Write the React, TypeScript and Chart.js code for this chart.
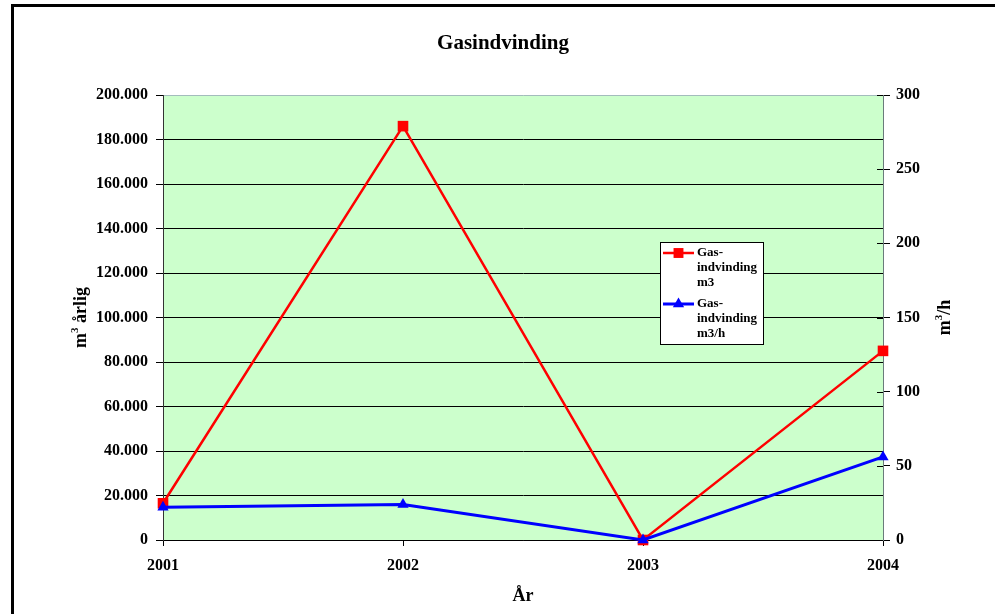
import { useEffect, useRef } from "react";
import { Chart, registerables } from "chart.js";

Chart.register(...registerables);

// Years on the category axis
const years = ["2001", "2002", "2003", "2004"];
// Annual gas recovery, m3 per year (left axis)
const gasPerYear = [16500, 186000, 0, 85000];
// Gas recovery rate, m3 per hour (right axis)
const gasPerHour = [22, 24, 0, 56];

// Legend entries, one line per row
const gasPerYearLegend = ["Gas-", "indvinding", "m3"];
const gasPerHourLegend = ["Gas-", "indvinding", "m3/h"];

const chartTitle = "Gasindvinding";
const xAxisTitle = "År";
// Axis titles split as [base, superscript, rest]
const leftAxisTitle: [string, string, string] = ["m", "3", " årlig"];
const rightAxisTitle: [string, string, string] = ["m", "3", "/h"];

const FONT = "'Liberation Serif', 'Times New Roman', serif";

function formatThousands(v: number): string {
  return String(Math.round(v)).replace(/\B(?=(\d{3})+(?!\d))/g, ".");
}

// Draws a vertical (bottom-to-top) title with a raised superscript
function drawRotatedSupTitle(
  ctx: CanvasRenderingContext2D,
  cx: number,
  cy: number,
  parts: [string, string, string],
  size: number
) {
  const [base, sup, rest] = parts;
  const supSize = Math.round(size * 0.62);
  ctx.save();
  ctx.translate(cx, cy);
  ctx.rotate(-Math.PI / 2);
  ctx.fillStyle = "#000";
  ctx.textBaseline = "alphabetic";
  ctx.textAlign = "left";
  ctx.font = `bold ${size}px ${FONT}`;
  const w1 = ctx.measureText(base).width;
  const w3 = ctx.measureText(rest).width;
  ctx.font = `bold ${supSize}px ${FONT}`;
  const w2 = ctx.measureText(sup).width;
  const total = w1 + w2 + w3;
  let x = -total / 2;
  const baseline = size * 0.33;
  ctx.font = `bold ${size}px ${FONT}`;
  ctx.fillText(base, x, baseline);
  x += w1;
  ctx.font = `bold ${supSize}px ${FONT}`;
  ctx.fillText(sup, x, baseline - size * 0.45);
  x += w2;
  ctx.font = `bold ${size}px ${FONT}`;
  ctx.fillText(rest, x, baseline);
  ctx.restore();
}

function drawMarker(
  ctx: CanvasRenderingContext2D,
  style: string,
  x: number,
  y: number,
  r: number,
  color: string
) {
  ctx.fillStyle = color;
  ctx.beginPath();
  if (style === "rect") {
    const s = Math.SQRT1_2 * r;
    ctx.rect(x - s, y - s, 2 * s, 2 * s);
  } else {
    ctx.moveTo(x, y - r);
    ctx.lineTo(x + r * Math.sin((2 * Math.PI) / 3), y - r * Math.cos((2 * Math.PI) / 3));
    ctx.lineTo(x + r * Math.sin((4 * Math.PI) / 3), y - r * Math.cos((4 * Math.PI) / 3));
    ctx.closePath();
  }
  ctx.fill();
}

const decorPlugin = {
  id: "decor",
  beforeDraw(chart: any) {
    const { ctx, chartArea: a, width, height } = chart;
    ctx.save();
    ctx.fillStyle = "#ffffff";
    ctx.fillRect(0, 0, width, height);
    // plot area fill
    ctx.fillStyle = "#CCFFCC";
    ctx.fillRect(a.left, a.top, a.right - a.left, a.bottom - a.top);
    // outer frame (left and top edges)
    ctx.fillStyle = "#000";
    ctx.fillRect(11, 4, 3, height - 4);
    ctx.fillRect(11, 4, width - 11, 3);
    ctx.restore();
  },
  afterDraw(chart: any) {
    const { ctx, chartArea: a } = chart;
    ctx.save();

    // chart title
    ctx.fillStyle = "#000";
    ctx.font = `bold 21px ${FONT}`;
    ctx.textAlign = "center";
    ctx.textBaseline = "alphabetic";
    ctx.fillText(chartTitle, 503, 49);

    // x axis title
    ctx.font = `bold 18px ${FONT}`;
    ctx.fillText(xAxisTitle, (a.left + a.right) / 2, 601);

    // y axis titles
    const midY = (a.top + a.bottom) / 2;
    drawRotatedSupTitle(ctx, 80, midY, leftAxisTitle, 18);
    drawRotatedSupTitle(ctx, 944, midY, rightAxisTitle, 18);

    // inner half of the right axis tick marks
    const ry = chart.scales.y1;
    ctx.strokeStyle = "#000";
    ctx.lineWidth = 1;
    for (const t of ry.ticks) {
      const y = Math.round(ry.getPixelForValue(t.value)) + 0.5;
      ctx.beginPath();
      ctx.moveTo(a.right - 6, y);
      ctx.lineTo(a.right, y);
      ctx.stroke();
    }

    // legend box
    const bx = 660, by = 242, bw = 104, bh = 103;
    ctx.fillStyle = "#fff";
    ctx.fillRect(bx, by, bw, bh);
    ctx.strokeStyle = "#000";
    ctx.lineWidth = 1;
    ctx.strokeRect(bx + 0.5, by + 0.5, bw - 1, bh - 1);

    const legendRows = [gasPerYearLegend, gasPerHourLegend];
    chart.data.datasets.forEach((ds: any, i: number) => {
      const rowY = by + 11 + i * 51;
      ctx.strokeStyle = ds.borderColor;
      ctx.lineWidth = ds.borderWidth;
      ctx.beginPath();
      ctx.moveTo(bx + 3, rowY);
      ctx.lineTo(bx + 34, rowY);
      ctx.stroke();
      drawMarker(ctx, ds.pointStyle, bx + 18.5, rowY, ds.pointStyle === "rect" ? 7 : 6.5, ds.borderColor);
      ctx.fillStyle = "#000";
      ctx.font = `bold 13px ${FONT}`;
      ctx.textAlign = "left";
      ctx.textBaseline = "middle";
      legendRows[i].forEach((line, j) => {
        ctx.fillText(line, bx + 37, rowY + j * 15);
      });
    });

    ctx.restore();
  },
};

export default function App() {
  const canvasRef = useRef<HTMLCanvasElement | null>(null);

  useEffect(() => {
    document.body.style.margin = "0";
    const canvas = canvasRef.current;
    if (!canvas) return;

    const tickFont = { family: FONT, size: 16, weight: "bold" as const };

    const chart = new Chart(canvas, {
      type: "line",
      data: {
        labels: years,
        datasets: [
          {
            label: gasPerYearLegend.join(" "),
            data: gasPerYear,
            yAxisID: "y",
            borderColor: "#FF0000",
            backgroundColor: "#FF0000",
            borderWidth: 2.5,
            pointStyle: "rect",
            pointRadius: 7.5,
            pointBorderWidth: 0,
            pointBackgroundColor: "#FF0000",
            tension: 0,
            clip: false,
            order: 1,
          },
          {
            label: gasPerHourLegend.join(" "),
            data: gasPerHour,
            yAxisID: "y1",
            borderColor: "#0000FF",
            backgroundColor: "#0000FF",
            borderWidth: 3,
            pointStyle: "triangle",
            pointRadius: 6.5,
            pointBorderWidth: 0,
            pointBackgroundColor: "#0000FF",
            tension: 0,
            clip: false,
            order: 0,
          },
        ],
      },
      options: {
        responsive: false,
        animation: false,
        devicePixelRatio: 1,
        layout: { padding: { top: 95, left: 0, right: 0, bottom: 0 } },
        plugins: {
          legend: { display: false },
          title: { display: false },
          tooltip: { enabled: false },
        },
        scales: {
          x: {
            type: "category",
            offset: false,
            grid: { drawOnChartArea: false, tickLength: 6, tickColor: "#000" },
            border: { color: "#000", width: 1 },
            ticks: {
              color: "#000",
              font: tickFont,
              padding: 10,
              maxRotation: 0,
              autoSkip: false,
            },
            afterFit: (s: any) => {
              s.height = 74;
            },
          },
          y: {
            position: "left",
            min: 0,
            max: 200000,
            grid: {
              color: (c: any) =>
                c.tick && c.tick.value === 200000 ? "#a3bcbc" : "#000",
              tickColor: "#000",
              tickLength: 7,
              lineWidth: 1,
            },
            border: { color: "#333", width: 1 },
            ticks: {
              stepSize: 20000,
              color: "#000",
              font: tickFont,
              padding: 8,
              callback: (v: any) => formatThousands(Number(v)),
            },
            afterFit: (s: any) => {
              s.width = 163;
            },
          },
          y1: {
            position: "right",
            min: 0,
            max: 300,
            grid: { drawOnChartArea: false, tickColor: "#000", tickLength: 7 },
            border: { color: "#6a7b7b", width: 1 },
            ticks: {
              stepSize: 50,
              color: "#000",
              font: tickFont,
              padding: 6,
            },
            afterFit: (s: any) => {
              s.width = 112;
            },
          },
        },
      },
      plugins: [decorPlugin],
    });

    return () => {
      chart.destroy();
    };
  }, []);

  return (
    <div style={{ width: 995, height: 614, position: "relative" }}>
      <canvas ref={canvasRef} width={995} height={614} />
    </div>
  );
}
